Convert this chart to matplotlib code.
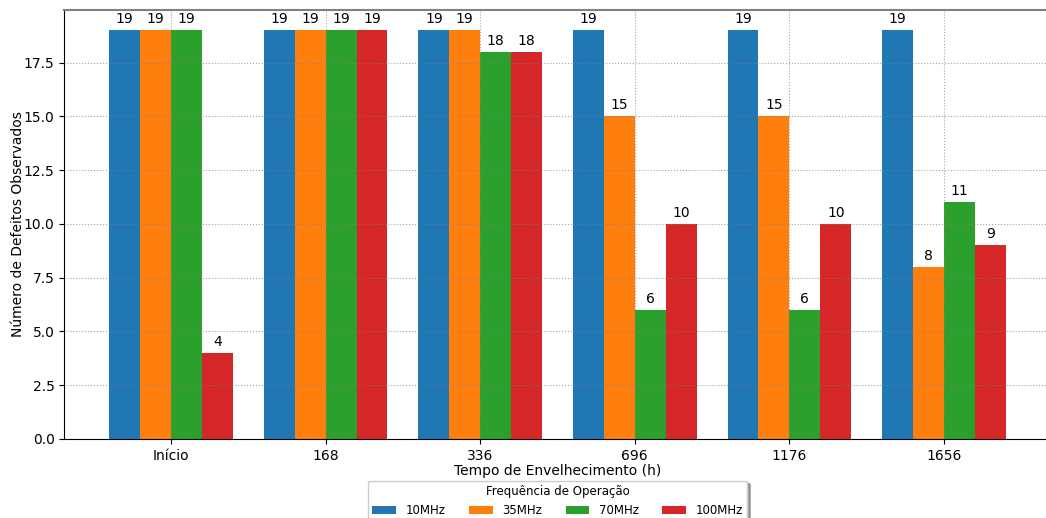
import matplotlib
matplotlib.use("Agg")
import matplotlib.pyplot as plt
import numpy as np

categories = ["Início", "168", "336", "696", "1176", "1656"]
series_names = ["10MHz", "35MHz", "70MHz", "100MHz"]
v10 = [19, 19, 19, 19, 19, 19]
v35 = [19, 19, 19, 15, 15, 8]
v70 = [19, 19, 18, 6, 6, 11]
v100 = [4, 19, 18, 10, 10, 9]
series_values = [v10, v35, v70, v100]
colors = ["#1f77b4", "#ff7f0e", "#2ca02c", "#d62728"]

fig = plt.figure(figsize=(10.46, 5.18), dpi=100)
ax = fig.add_axes([64.3 / 1046, 1 - 439 / 518, (1050.7 - 64.3) / 1046, (439 - 10) / 518])

x = np.arange(len(categories))
width = 0.2
for i, (name, vals) in enumerate(zip(series_names, series_values)):
    bars = ax.bar(x + (i - 1.5) * width, vals, width, label=name, color=colors[i])
    ax.bar_label(bars, padding=3, fontsize=10)

ax.set_xticks(x)
ax.set_xticklabels(categories)
ax.set_xlabel("Tempo de Envelhecimento (h)", fontsize=10, labelpad=1)
ax.set_ylabel("Número de Defeitos Observados", fontsize=10, labelpad=-1)
ax.set_axisbelow(False)
ax.grid(True, linestyle=":", color="gray", alpha=0.7, linewidth=0.8)
ax.spines["top"].set_color("gray")
ax.spines["top"].set_linewidth(1.5)

ax.legend(title="Frequência de Operação", loc="upper center",
          bbox_to_anchor=(0.5, -0.083), ncol=4, shadow=True,
          fontsize=8.5, title_fontsize=8.5)

fig.savefig("out.png", dpi=100)
